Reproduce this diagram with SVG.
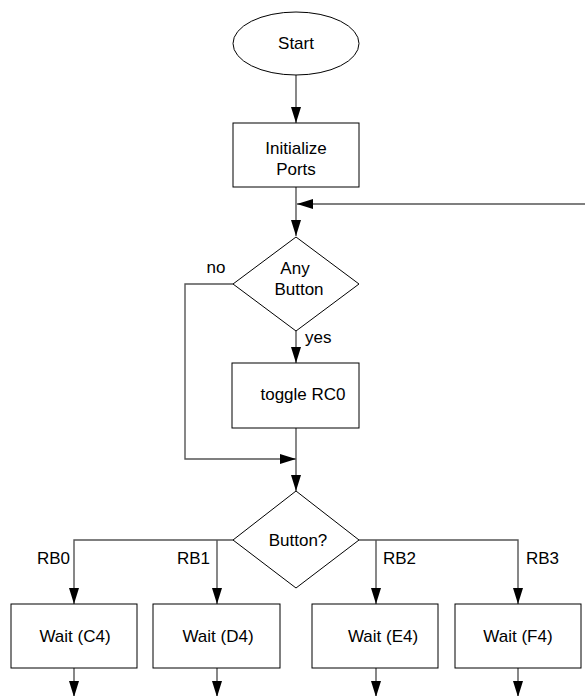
<svg xmlns="http://www.w3.org/2000/svg" width="585" height="696" viewBox="0 0 585 696">
<defs>
<marker id="arr" markerUnits="userSpaceOnUse" markerWidth="16" markerHeight="10" refX="16" refY="5" orient="auto">
<path d="M0,0 L16,5 L0,10 Z" fill="#000"/>
</marker>
<style>
.n{fill:#fff;stroke:#000;stroke-width:1}
.t{font-family:"Liberation Sans",Arial,sans-serif;font-size:17px;fill:#000}
.m{text-anchor:middle}
.c{fill:none;stroke:#555;stroke-width:1.4}
</style>
</defs>
<rect width="585" height="696" fill="#fff"/>
<g id="connectors">
<path class="c" d="M296,75 V123" marker-end="url(#arr)"/>
<path class="c" d="M296,187 V236" marker-end="url(#arr)"/>
<path class="c" d="M585,204 H297" marker-end="url(#arr)"/>
<path class="c" d="M296,331 V363" marker-end="url(#arr)"/>
<path class="c" d="M233,284 H185 V459 H296" marker-end="url(#arr)"/>
<path class="c" d="M296,428 V491" marker-end="url(#arr)"/>
<path class="c" d="M233,540 H74 V604" marker-end="url(#arr)"/>
<path class="c" d="M217,540 V604" marker-end="url(#arr)"/>
<path class="c" d="M359,540 H518 V604" marker-end="url(#arr)"/>
<path class="c" d="M376,540 V604" marker-end="url(#arr)"/>
<path class="c" d="M74,668 V697" marker-end="url(#arr)"/>
<path class="c" d="M217,668 V697" marker-end="url(#arr)"/>
<path class="c" d="M376,668 V697" marker-end="url(#arr)"/>
<path class="c" d="M518,668 V697" marker-end="url(#arr)"/>
<text class="t" x="216" y="273" text-anchor="middle">no</text>
<text class="t" x="305" y="343">yes</text>
<text class="t" x="70" y="564" text-anchor="end">RB0</text>
<text class="t" x="210" y="564" text-anchor="end">RB1</text>
<text class="t" x="383" y="564">RB2</text>
<text class="t" x="526" y="564">RB3</text>
</g>
<g id="start">
<ellipse class="n" cx="296" cy="43.5" rx="63" ry="31.5"/>
<text class="t m" x="296" y="49">Start</text>
</g>
<g id="init">
<rect class="n" x="233" y="123" width="126" height="64"/>
<text class="t m" x="296" y="154">Initialize</text>
<text class="t m" x="296" y="175">Ports</text>
</g>
<g id="anybutton">
<path class="n" d="M296,237 L359,284 L296,331 L233,284 Z"/>
<text class="t m" x="295" y="274">Any</text>
<text class="t m" x="299" y="295">Button</text>
</g>
<g id="toggle">
<rect class="n" x="232" y="363" width="127" height="65"/>
<text class="t m" x="303" y="400">toggle RC0</text>
</g>
<g id="button">
<path class="n" d="M296,491 L359,540 L296,588 L233,540 Z"/>
<text class="t m" x="298" y="546">Button?</text>
</g>
<g id="waitC4">
<rect class="n" x="11" y="604" width="126" height="64"/>
<text class="t m" x="75" y="642">Wait (C4)</text>
</g>
<g id="waitD4">
<rect class="n" x="153" y="604" width="127" height="64"/>
<text class="t m" x="218" y="642">Wait (D4)</text>
</g>
<g id="waitE4">
<rect class="n" x="312" y="604" width="126" height="64"/>
<text class="t m" x="383" y="642">Wait (E4)</text>
</g>
<g id="waitF4">
<rect class="n" x="455" y="604" width="126" height="64"/>
<text class="t m" x="518" y="642">Wait (F4)</text>
</g>
</svg>
